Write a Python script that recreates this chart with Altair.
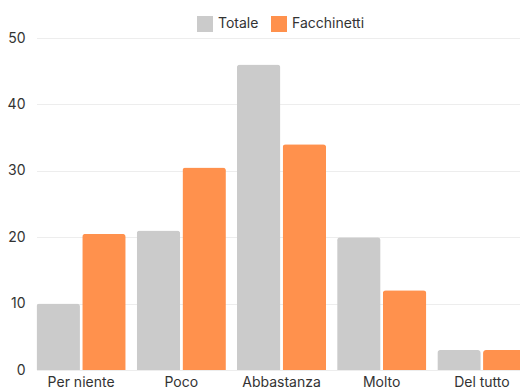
import altair as alt
import pandas as pd

# Answer categories on the x axis
categories = ["Per niente", "Poco", "Abbastanza", "Molto", "Del tutto"]
series_names = ["Totale", "Facchinetti"]
totale = [10, 21, 46, 20, 3]
facchinetti = [20.5, 30.5, 34, 12, 3]
y_ticks = [0, 10, 20, 30, 40, 50]
series_colors = ["#CBCBCB", "#FF914D"]

rows = []
for cat, t, f in zip(categories, totale, facchinetti):
    rows.append({"Risposta": cat, "Serie": series_names[0], "Valore": t})
    rows.append({"Risposta": cat, "Serie": series_names[1], "Valore": f})
df = pd.DataFrame(rows)

FONT = "Inter"

bars = alt.Chart(df).mark_bar(
    cornerRadiusTopLeft=3, cornerRadiusTopRight=3
).encode(
    x=alt.X(
        "Risposta:N",
        sort=categories,
        scale=alt.Scale(range=[0.5, 490.5], paddingInner=0.11, paddingOuter=0),
        axis=alt.Axis(
            title=None, labelAngle=0, ticks=False, domain=False, grid=False,
            labelFontSize=14, labelColor="#333333", labelFont=FONT,
            labelPadding=5,
        ),
    ),
    xOffset=alt.XOffset(
        "Serie:N", sort=series_names, scale=alt.Scale(paddingInner=0.05)
    ),
    y=alt.Y(
        "Valore:Q",
        scale=alt.Scale(domain=[0, 50], nice=False),
        axis=alt.Axis(
            title=None, values=y_ticks, ticks=False, domain=False,
            gridColor="#EDEDED", gridWidth=1,
            labelFontSize=14, labelColor="#333333", labelFont=FONT,
            labelPadding=11,
        ),
    ),
    color=alt.Color(
        "Serie:N",
        sort=series_names,
        scale=alt.Scale(domain=series_names, range=series_colors),
        legend=alt.Legend(
            title=None, orient="none", direction="horizontal",
            legendX=161, legendY=-22,
            symbolType="square", symbolSize=256, symbolStrokeWidth=0,
            labelFontSize=14, labelColor="#333333", labelFont=FONT,
            labelOffset=5, columnPadding=12, padding=0,
        ),
    ),
)

chart = bars.properties(
    width=484,
    height=332,
    autosize=alt.AutoSizeParams(type="none"),
    padding={"left": 36, "top": 38, "right": 0, "bottom": 17},
    background="white",
).configure_view(stroke=None)

chart.save("out.html", embed_options={"renderer": "svg", "actions": False})
